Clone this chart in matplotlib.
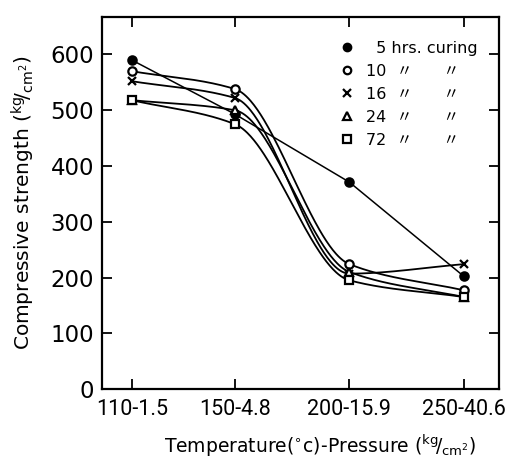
"""
Compressive strength vs curing temperature/pressure, redrawn from a scanned figure.
"""

import numpy as np
import matplotlib
matplotlib.use('Agg')
import matplotlib.pyplot as plt

plt.rcParams['font.family'] = ['DejaVu Sans', 'Noto Sans CJK JP']
plt.rcParams['mathtext.default'] = 'regular'

# data
conditions = ['110-1.5', '150-4.8', '200-15.9', '250-40.6']
x_pos = [0, 0.9, 1.9, 2.9]  # uneven spacing as in the original

hrs5 = [590, 493, 371, 202]
hrs10 = [570, 538, 224, 177]
hrs16 = [552, 522, 207, 224]
hrs24 = [518, 500, 210, 165]
hrs72 = [518, 475, 195, 165]

legend_labels = ['\u20075 hrs. curing', '10  〃      〃', '16  〃      〃',
                 '24  〃      〃', '72  〃      〃']


def pchip(x, y, xs):
    """monotone cubic hermite curve through the points (for drawing only)"""
    x = np.asarray(x, float)
    y = np.asarray(y, float)
    h = np.diff(x)
    d = np.diff(y) / h
    n = len(x)
    m = np.zeros(n)
    for k in range(1, n - 1):
        if d[k - 1] * d[k] > 0:
            w1 = 2 * h[k] + h[k - 1]
            w2 = h[k] + 2 * h[k - 1]
            m[k] = (w1 + w2) / (w1 / d[k - 1] + w2 / d[k])
    m[0] = d[0]
    m[-1] = d[-1]
    idx = np.clip(np.searchsorted(x, xs) - 1, 0, n - 2)
    t = (xs - x[idx]) / h[idx]
    h00 = 2 * t**3 - 3 * t**2 + 1
    h10 = t**3 - 2 * t**2 + t
    h01 = -2 * t**3 + 3 * t**2
    h11 = t**3 - t**2
    return (h00 * y[idx] + h10 * h[idx] * m[idx]
            + h01 * y[idx + 1] + h11 * h[idx] * m[idx + 1])


fig = plt.figure(figsize=(5.07, 4.61), dpi=100)
ax = fig.add_axes([0.202, 0.156, 0.782, 0.807])

xs = np.linspace(x_pos[0], x_pos[-1], 300)
series = [
    (hrs5, 'o', 'black'),
    (hrs10, 'o', 'white'),
    (hrs16, 'x', 'black'),
    (hrs24, '^', 'white'),
    (hrs72, 's', 'white'),
]
handles = []
for vals, mk, fc in series:
    if vals is hrs5:
        ax.plot(x_pos, vals, color='black', lw=1.1)
    else:
        ax.plot(xs, pchip(x_pos, vals, xs), color='black', lw=1.3)
    h, = ax.plot(x_pos, vals, linestyle='none', marker=mk, ms=6,
                 mfc=fc, mec='black', mew=1.6, zorder=3)
    handles.append(h)

ax.legend(handles, legend_labels, loc='upper left', bbox_to_anchor=(0.585, 0.953),
          frameon=False, handlelength=0.8, handletextpad=0.8, labelspacing=0.5,
          borderaxespad=0, markerscale=0.9, prop={'size': 11.5})

ax.set_xlim(-0.256, 3.205)
ax.set_ylim(0, 667)
ax.set_xticks(x_pos)
ax.set_xticklabels(conditions, fontsize=15.5, family='Roboto')
ax.set_yticks(range(0, 700, 100))
ax.tick_params(axis='y', labelsize=16.5, pad=6)
ax.tick_params(axis='x', pad=7)
ax.tick_params(direction='in', length=7, width=1.3, top=True, right=True)
for s in ax.spines.values():
    s.set_linewidth(1.6)

ax.set_ylabel(r'Compressive strength ($^{kg}\!/_{cm^2}$)', fontsize=14.5, labelpad=10)
ax.set_xlabel(r'Temperature($^{\circ}$c)-Pressure ($^{kg}\!/_{cm^2}$)', fontsize=13.5)
ax.xaxis.set_label_coords(0.55, -0.118)

plt.savefig('out.png', dpi=100)
